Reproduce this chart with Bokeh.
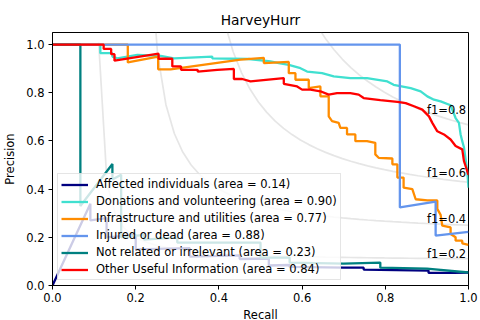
import numpy as np
from bokeh.plotting import figure
from bokeh.models import Range1d, FixedTicker, NumeralTickFormatter
from bokeh.core.properties import value
from bokeh.embed import file_html
from bokeh.resources import INLINE

# ---------------- data ----------------
title = "HarveyHurr"
f_scores = [0.2, 0.4, 0.6, 0.8]

labels = [
    "Affected individuals (area = 0.14)",
    "Donations and volunteering (area = 0.90)",
    "Infrastructure and utilities (area = 0.77)",
    "Injured or dead (area = 0.88)",
    "Not related or irrelevant (area = 0.23)",
    "Other Useful Information (area = 0.84)",
]

affected_recall = [0.0, 0.091, 0.091, 0.13, 0.13, 0.20, 0.20, 0.33, 0.33, 0.45, 0.45,
                   0.52, 0.52, 0.57, 0.57, 0.70, 0.748, 0.748, 0.904, 0.904, 0.964, 1.0]
affected_precision = [0.0, 0.339, 0.27, 0.28, 0.20, 0.21, 0.15, 0.155, 0.12, 0.125, 0.11,
                      0.112, 0.083, 0.085, 0.077, 0.074, 0.074, 0.066, 0.062, 0.052, 0.052, 0.054]

donations_recall = [0.0, 0.115, 0.115, 0.144, 0.144, 0.156, 0.204, 0.260, 0.292, 0.384, 0.384,
                    0.472, 0.524, 0.544, 0.568, 0.596, 0.612, 0.648, 0.676, 0.716, 0.756, 0.805,
                    0.820, 0.861, 0.885, 0.901, 0.917, 0.933, 0.957, 0.969, 0.977, 0.981, 0.985,
                    0.989, 0.997, 1.0]
donations_precision = [1.0, 1.0, 0.964, 0.964, 0.950, 0.943, 0.957, 0.953, 0.943, 0.950, 0.943,
                       0.940, 0.930, 0.923, 0.916, 0.902, 0.888, 0.881, 0.868, 0.861, 0.861, 0.847,
                       0.833, 0.819, 0.806, 0.785, 0.771, 0.764, 0.748, 0.695, 0.675, 0.627, 0.599,
                       0.574, 0.475, 0.406]

infra_recall = [0.0, 0.181, 0.181, 0.254, 0.254, 0.284, 0.452, 0.508, 0.508, 0.568, 0.568,
                0.584, 0.584, 0.616, 0.616, 0.644, 0.644, 0.664, 0.664, 0.672, 0.688, 0.692,
                0.708, 0.708, 0.728, 0.728, 0.756, 0.776, 0.776, 0.784, 0.817, 0.817, 0.829,
                0.829, 0.844, 0.844, 0.865, 0.873, 0.901, 0.925, 0.925, 0.933, 0.937, 0.957,
                0.957, 0.969, 0.969, 0.985, 0.985, 1.0]
infra_precision = [1.0, 1.0, 0.926, 0.950, 0.897, 0.897, 0.937, 0.945, 0.923, 0.928, 0.881,
                   0.881, 0.854, 0.854, 0.819, 0.826, 0.785, 0.785, 0.702, 0.682, 0.675, 0.654,
                   0.654, 0.627, 0.627, 0.599, 0.599, 0.592, 0.544, 0.530, 0.527, 0.503, 0.503,
                   0.448, 0.448, 0.406, 0.400, 0.358, 0.353, 0.353, 0.318, 0.293, 0.248, 0.241,
                   0.214, 0.200, 0.186, 0.186, 0.175, 0.169]

injured_recall = [0.0, 0.835, 0.835, 0.921, 0.921, 1.0]
injured_precision = [1.0, 1.0, 0.324, 0.348, 0.207, 0.223]

notrel_recall = [0.0, 0.067, 0.067, 0.144, 0.144, 0.165, 0.165, 0.22, 0.22, 0.30, 0.30,
                 0.50, 0.50, 0.57, 0.57, 0.70, 0.788, 0.788, 0.90, 1.0]
notrel_precision = [1.0, 1.0, 0.33, 0.504, 0.44, 0.46, 0.20, 0.21, 0.19, 0.20, 0.178,
                    0.178, 0.116, 0.116, 0.095, 0.091, 0.095, 0.074, 0.070, 0.054]

other_recall = [0.0, 0.123, 0.123, 0.141, 0.141, 0.149, 0.149, 0.255, 0.255, 0.288, 0.288,
                0.309, 0.309, 0.349, 0.349, 0.396, 0.436, 0.436, 0.456, 0.476, 0.556, 0.556,
                0.588, 0.600, 0.620, 0.644, 0.664, 0.684, 0.716, 0.736, 0.748, 0.788, 0.829,
                0.849, 0.869, 0.889, 0.905, 0.913, 0.925, 0.941, 0.957, 0.969, 0.985, 0.989,
                0.997, 1.0]
other_precision = [1.0, 1.0, 0.982, 0.982, 0.960, 0.960, 0.933, 0.962, 0.941, 0.941, 0.909,
                   0.909, 0.895, 0.895, 0.888, 0.895, 0.899, 0.857, 0.857, 0.847, 0.861, 0.837,
                   0.826, 0.813, 0.813, 0.806, 0.792, 0.798, 0.798, 0.792, 0.778, 0.769, 0.762,
                   0.757, 0.744, 0.730, 0.702, 0.675, 0.640, 0.627, 0.606, 0.579, 0.565, 0.517,
                   0.475, 0.459]

series_recall = [affected_recall, donations_recall, infra_recall, injured_recall,
                 notrel_recall, other_recall]
series_precision = [affected_precision, donations_precision, infra_precision,
                    injured_precision, notrel_precision, other_precision]

# ---------------- styles ----------------
colors = ["navy", "turquoise", "darkorange", "cornflowerblue", "teal", "red"]
FONT = "DejaVu Sans"
FS = "11.5px"

p = figure(frame_width=416, frame_height=253, output_backend="svg", toolbar_location=None,
           x_range=Range1d(0, 1.0), y_range=Range1d(0, 1.05),
           min_border_left=52, min_border_right=12, min_border_top=32,
           min_border_bottom=35)

p.title.text = title
p.title.align = "center"
p.title.text_font = FONT
p.title.text_font_size = "13.8px"
p.title.text_font_style = "normal"
p.title.text_color = "black"
p.title.standoff = 9

# iso-f1 curves
for f in f_scores:
    xs = np.linspace(0.01, 1, 50)
    with np.errstate(divide="ignore"):
        ys = f * xs / (2 * xs - f)
    m = ys >= 0
    p.line(xs[m], ys[m], color="gray", alpha=0.2, line_width=1.7)

for rx, py, c, lab in zip(series_recall, series_precision, colors, labels):
    p.line(rx, py, color=c, line_width=2.3, legend_label=lab)

# f1 labels
lx, ly, lt = [], [], []
for f in f_scores:
    xs = np.linspace(0.01, 1, 50)
    ys = f * xs / (2 * xs - f)
    lx.append(0.9)
    ly.append(ys[45] + 0.02)
    lt.append("f1={0:0.1f}".format(f))
p.text(x=lx, y=ly, text=lt, text_font=value(FONT), text_font_size=value(FS),
       text_align="left", text_baseline="alphabetic", text_color="black")

# axes
for ax in (p.xaxis[0], p.yaxis[0]):
    ax.ticker = FixedTicker(ticks=[0, 0.2, 0.4, 0.6, 0.8, 1.0])
    ax.formatter = NumeralTickFormatter(format="0.0")
    ax.major_tick_in = 0
    ax.major_tick_out = 4
    ax.minor_tick_line_color = None
    ax.major_label_text_font = FONT
    ax.major_label_text_font_size = FS
    ax.major_label_text_color = "black"
    ax.axis_label_text_font = FONT
    ax.axis_label_text_font_size = FS
    ax.axis_label_text_font_style = "normal"
    ax.axis_label_text_color = "black"
    ax.axis_line_color = "black"
    ax.major_tick_line_color = "black"

p.xaxis.axis_label = "Recall"
p.yaxis.axis_label = "Precision"
p.xaxis.major_label_standoff = 3
p.xaxis.axis_label_standoff = 3
p.yaxis.major_label_standoff = 4
p.yaxis.axis_label_standoff = 6

p.xgrid.visible = False
p.ygrid.visible = False
p.outline_line_color = "black"
p.outline_line_width = 1
p.outline_line_alpha = 1
p.background_fill_color = "white"
p.border_fill_color = "white"

lg = p.legend[0]
lg.location = "bottom_left"
lg.margin = 5
lg.padding = 3
lg.spacing = 3
lg.label_height = 13
lg.glyph_height = 13
lg.glyph_width = 27
lg.label_standoff = 8
lg.label_text_font = FONT
lg.label_text_font_size = FS
lg.label_text_color = "black"
lg.background_fill_alpha = 0.8
lg.border_line_color = "#cccccc"
lg.border_line_width = 1

open("out.html", "w").write(file_html(p, INLINE))
